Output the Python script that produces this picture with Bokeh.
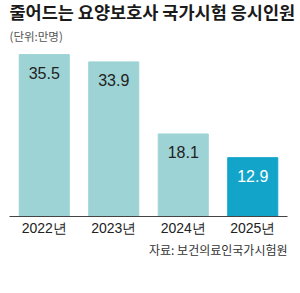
from bokeh.plotting import figure
from bokeh.models import ColumnDataSource, Title, FactorRange
from bokeh.embed import file_html
from bokeh.resources import INLINE
from bokeh.core.properties import value

years = ["2022년", "2023년", "2024년", "2025년"]
counts = [35.5, 33.9, 18.1, 12.9]
labels = ["35.5", "33.9", "18.1", "12.9"]
bar_colors = ["#9dd3d4", "#9dd3d4", "#9dd3d4", "#12a4c9"]
text_colors = ["#222222", "#222222", "#222222", "#ffffff"]

title_text = "줄어드는 요양보호사 국가시험 응시인원"
unit_text = "(단위:만명)"
source_text = "자료: 보건의료인국가시험원"

src = ColumnDataSource(dict(years=years, counts=counts, labels=labels,
                            bar_colors=bar_colors, text_colors=text_colors))

p = figure(x_range=FactorRange(*years), y_range=(0, 36.4),
           width=300, height=293, output_backend="svg", toolbar_location=None,
           y_axis_location=None, title=None,
           min_border_left=9, min_border_right=13, min_border_top=0, min_border_bottom=0)
p.outline_line_color = None
p.xgrid.visible = False
p.ygrid.visible = False
p.background_fill_color = "white"
p.border_fill_color = "white"

p.vbar(x="years", top="counts", width=0.72, color="bar_colors", source=src)
p.text(x="years", y="counts", text="labels", source=src, text_color="text_colors",
       text_align="center", text_baseline="middle", y_offset=18,
       text_font=value("Liberation Sans"), text_font_size="16px")

ax = p.xaxis[0]
ax.axis_line_color = "#444444"
ax.axis_line_width = 1
ax.major_tick_line_color = None
ax.minor_tick_line_color = None
ax.major_label_standoff = -3
ax.major_label_text_font = "Liberation Sans"
ax.major_label_text_font_size = "14px"
ax.major_label_text_color = "#222222"

p.add_layout(Title(text=unit_text, text_font="Noto Sans CJK KR", text_font_style="normal",
                   text_font_size="11.5px", text_color="#555555", standoff=13, offset=0), "above")
p.add_layout(Title(text=title_text, text_font="Noto Sans CJK KR", text_font_style="bold",
                   text_font_size="17.5px", text_color="#1a1a1a", standoff=-8, offset=0), "above")
p.add_layout(Title(text=source_text, text_font="Noto Sans CJK KR", text_font_style="normal",
                   text_font_size="12px", text_color="#333333", align="right",
                   standoff=1, offset=0), "below")
p.add_layout(Title(text=" ", text_font_size="30px", standoff=0), "below")

open("out.html", "w").write(file_html(p, INLINE))
